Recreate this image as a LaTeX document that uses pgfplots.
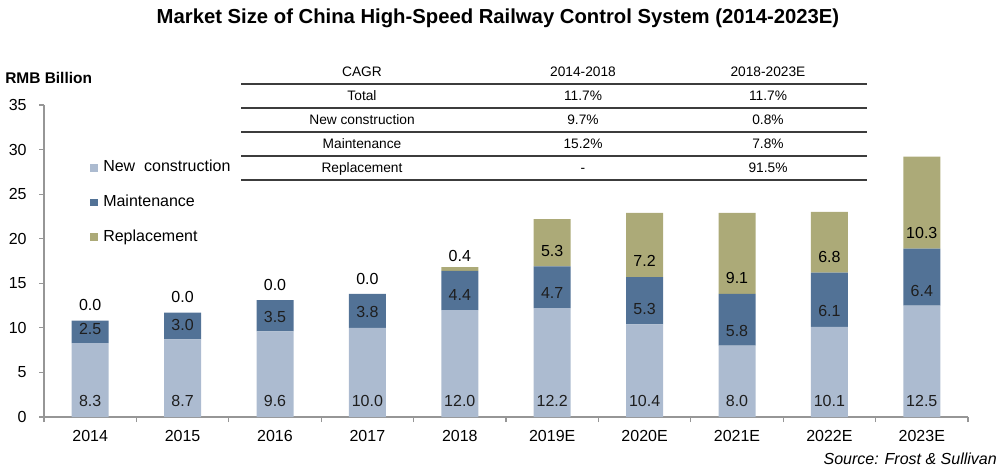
\documentclass[border=0pt]{standalone}
\usepackage{pgfplots}
\pgfplotsset{compat=1.18}
\usepackage{fontspec}
\setmainfont{Liberation Sans}
\definecolor{nc}{RGB}{172,187,208}
\definecolor{mt}{RGB}{82,114,150}
\definecolor{rp}{RGB}{172,170,120}
\definecolor{axgray}{RGB}{150,150,150}
\definecolor{tline}{RGB}{60,60,60}
\definecolor{labgray}{RGB}{30,30,30}

\pgfplotstableread{
x nc mt rp
0 8.3 2.5 0.0
1 8.7 3.0 0.0
2 9.6 3.5 0.0
3 10.0 3.8 0.0
4 12.0 4.4 0.4
5 12.2 4.7 5.3
6 10.4 5.3 7.2
7 8.0 5.8 9.1
8 10.1 6.1 6.8
9 12.5 6.4 10.3
}\datatable

\begin{document}
\begin{tikzpicture}
\useasboundingbox (0,0) rectangle (750pt,354pt);
\pgfplotsset{
  common/.style={width=693pt,height=234pt,scale only axis,
    at={(33pt,41.25pt)},anchor=south west,
    xmin=-0.5,xmax=9.5,ymin=0,ymax=35,enlargelimits=false},
}
\begin{axis}[common,
  ybar stacked, bar width=27.75pt,
  axis x line*=bottom, axis y line*=left,
  axis line style={axgray,line width=0.8pt,-},
  ytick={0,5,...,35},
  xtick={0,...,9},
  xticklabels={2014,2015,2016,2017,2018,2019E,2020E,2021E,2022E,2023E},
  minor xtick={-0.5,0.5,...,9.5},
  tick align=outside,
  major tick length=3.5pt, minor tick length=3.75pt,
  major x tick style={draw=none},
  minor x tick style={axgray,line width=0.8pt},
  y tick style={axgray,line width=0.8pt},
  tick label style={font=\fontsize{12}{14}\selectfont, text=black},
  /pgf/number format/assume math mode=true,
  xticklabel style={yshift=-3pt},
  yticklabel style={xshift=-6pt},
  legend cell align=left,
  legend style={at={(0.050,0.829)},anchor=north west,draw=none,fill=none,
    inner sep=0pt,row sep=11.9pt,font=\fontsize{12}{14}\selectfont,
    nodes={inner sep=1pt,text height=9pt,text depth=3pt},
    /tikz/every odd column/.append style={column sep=3pt}},
  every axis plot post/.append style={legend image code/.code={\fill[##1] (0pt,-2.8pt) rectangle (5.6pt,2.8pt);}},
]
\addplot[fill=nc,draw=none] table[x=x,y=nc]{\datatable};
\addplot[fill=mt,draw=none] table[x=x,y=mt]{\datatable};
\addplot[fill=rp,draw=none] table[x=x,y=rp]{\datatable};
\legend{New\ \ construction,Maintenance,Replacement}
\end{axis}

\begin{axis}[common,hide axis,clip=false,
  every node near coord/.append style={anchor=center,font=\fontsize{12}{14}\selectfont}]
\addplot[draw=none,nodes near coords,point meta=explicit symbolic,
  every node near coord/.append style={text=labgray}] coordinates {
(0,1.85)[8.3] (1,1.85)[8.7] (2,1.85)[9.6] (3,1.85)[10.0] (4,1.85)[12.0]
(5,1.85)[12.2] (6,1.85)[10.4] (7,1.85)[8.0] (8,1.85)[10.1] (9,1.85)[12.5]};
\addplot[draw=none,nodes near coords,point meta=explicit symbolic,
  every node near coord/.append style={text=labgray}] coordinates {
(0,9.87)[2.5] (1,10.3)[3.0] (2,11.2)[3.5] (3,11.74)[3.8] (4,13.69)[4.4]
(5,13.96)[4.7] (6,12.1)[5.3] (7,9.68)[5.8] (8,11.9)[6.1] (9,14.17)[6.4]};
\addplot[draw=none,nodes near coords,point meta=explicit symbolic,
  every node near coord/.append style={text=black}] coordinates {
(0,12.56)[0.0] (1,13.42)[0.0] (2,14.8)[0.0] (3,15.48)[0.0] (4,18.06)[0.4]
(5,18.66)[5.3] (6,17.54)[7.2] (7,15.6)[9.1] (8,17.9)[6.8] (9,20.64)[10.3]};
\end{axis}

\begin{scope}[yshift=354pt,x=0.75pt,y=-0.75pt]
  \node[anchor=center,font=\bfseries\fontsize{15.2}{17}\selectfont] at (498,18) {Market Size of China High-Speed Railway Control System (2014-2023E)};
  \node[anchor=base west,inner sep=0pt,font=\bfseries\fontsize{11.6}{13}\selectfont] at (5,84) {RMB Billion};
  \foreach \yy in {84,108,132,156,180}
    \draw[tline,line width=0.9pt] (241,\yy) -- (867,\yy);
  \begin{scope}[every node/.style={anchor=base,inner sep=0pt,font=\fontsize{10.3}{12}\selectfont}]
    \node at (362,77) {CAGR};
    \node at (583,77) {2014-2018};
    \node at (768,77) {2018-2023E};
    \node at (362,100.5) {Total};
    \node at (583,100.5) {11.7\%};
    \node at (768,100.5) {11.7\%};
    \node at (362,124.5) {New construction};
    \node at (583,124.5) {9.7\%};
    \node at (768,124.5) {0.8\%};
    \node at (362,148.5) {Maintenance};
    \node at (583,148.5) {15.2\%};
    \node at (768,148.5) {7.8\%};
    \node at (362,172.5) {Replacement};
    \node at (583,172.5) {-};
    \node at (768,172.5) {91.5\%};
  \end{scope}
  \node[anchor=base east,inner sep=0pt,font=\itshape\fontsize{12}{14}\selectfont] at (997,464) {Source: Frost \& Sullivan};
\end{scope}
\end{tikzpicture}
\end{document}
